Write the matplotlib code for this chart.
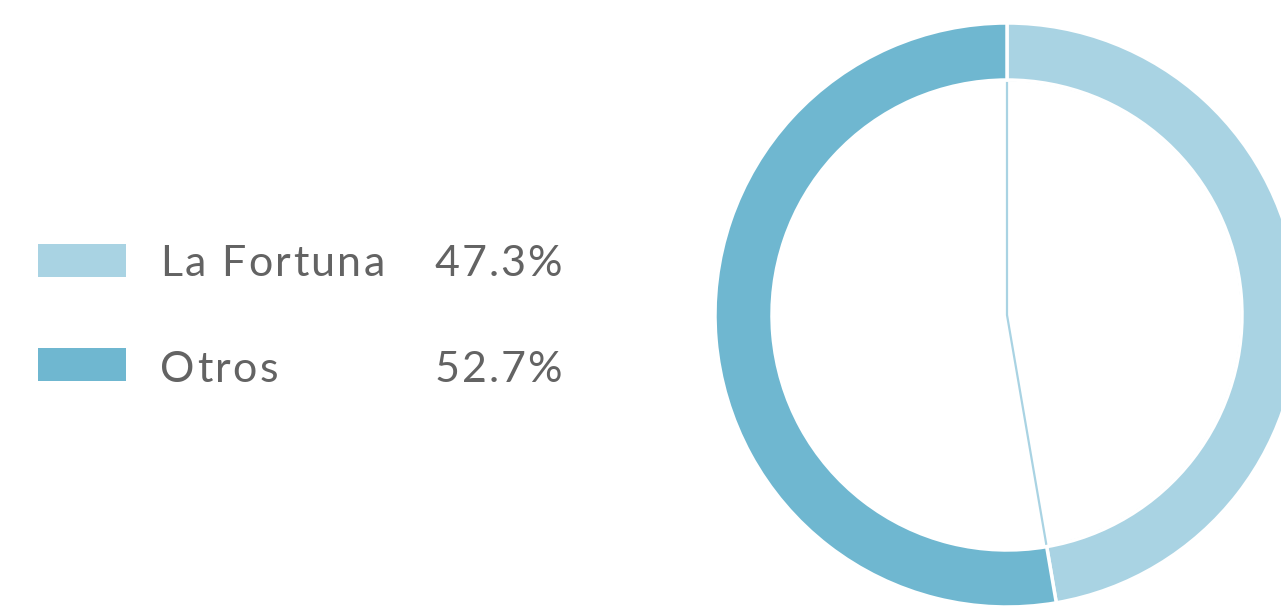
import matplotlib
matplotlib.use("Agg")
import matplotlib.pyplot as plt
from matplotlib.patches import Rectangle
from matplotlib.font_manager import FontProperties

labels = ["La Fortuna", "Otros"]
values = [47.3, 52.7]
colors = ["#a9d3e3", "#6fb7d0"]

W, H = 1281, 606
fig = plt.figure(figsize=(W / 100, H / 100), dpi=100)
ax = fig.add_axes([0, 0, 1, 1])
ax.set_xlim(0, W)
ax.set_ylim(0, H)
ax.set_aspect("equal")
ax.axis("off")

cx, cy, R = 1007, 291, 292
ring = 57

# faint wedge outline of the first slice inside the hole
ax.pie([values[0], 100 - values[0]], radius=R - ring, center=(cx, cy),
       startangle=90, counterclock=False, colors=["none", "none"],
       wedgeprops=dict(edgecolor=colors[0], linewidth=1.6, fill=False))
ax.patches[-1].set_visible(False)

ax.pie(values, radius=R, center=(cx, cy), startangle=90, counterclock=False,
       colors=colors, wedgeprops=dict(width=ring, edgecolor="white", linewidth=2.5))
ax.set_xlim(0, W)
ax.set_ylim(0, H)
ax.set_aspect("equal")

text_color = "#636363"
fsize = 31
fp = FontProperties(family="Lato", weight="normal", size=fsize)
renderer = fig.canvas.get_renderer()


def width(s):
    if not s:
        return 0.0
    w, h, d = renderer.get_text_width_height_descent(s, fp, ismath=False)
    return w


def spaced(x, y, s, sp, align="left"):
    total = width(s) + sp * (len(s) - 1)
    x0 = x if align == "left" else x - total
    for i, ch in enumerate(s):
        if ch == " ":
            continue
        xi = x0 + width(s[:i].replace(" ", "\u00a0")) + i * sp
        ax.text(xi, y, ch, fontproperties=fp, color=text_color,
                va="baseline", ha="left")


swatch_y = [329, 225]
base_y = [330, 224]
for lab, val, col, sy, by in zip(labels, values, colors, swatch_y, base_y):
    ax.add_patch(Rectangle((38, sy), 88, 33, facecolor=col, edgecolor="none"))
    spaced(160, by, lab, 2.4)
    spaced(562, by, f"{val:.1f}%", 2.0, align="right")

fig.savefig("out.png", dpi=100, facecolor="white")
